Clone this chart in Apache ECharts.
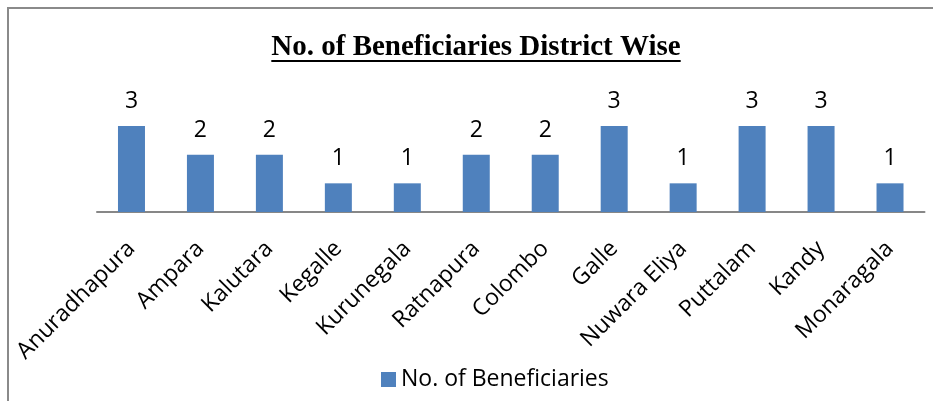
<!DOCTYPE html>
<html>
<head>
<meta charset="utf-8">
<script src="https://cdn.jsdelivr.net/npm/echarts@6/dist/echarts.min.js"></script>
<style>
  html, body { margin: 0; padding: 0; background: #fff; }
  #chart { width: 933px; height: 401px; }
</style>
</head>
<body>
<div id="chart"></div>
<script>
// District-wise beneficiary counts
const districts = ['Anuradhapura', 'Ampara', 'Kalutara', 'Kegalle', 'Kurunegala', 'Ratnapura',
  'Colombo', 'Galle', 'Nuwara Eliya', 'Puttalam', 'Kandy', 'Monaragala'];
const beneficiaries = [3, 2, 2, 1, 1, 2, 2, 3, 1, 3, 3, 1];
const seriesName = 'No. of Beneficiaries';
const chartTitle = 'No. of Beneficiaries District Wise';

const labelFont = '"Open Sans"';
const titleFont = 'bold 29px "Liberation Serif"';

// width of the title, used for its underline
const ctx = document.createElement('canvas').getContext('2d');
ctx.font = titleFont;
const titleWidth = ctx.measureText(chartTitle).width;
const titleCx = 476;

const chart = echarts.init(document.getElementById('chart'), null, { renderer: 'canvas' });
chart.setOption({
  animation: false,
  backgroundColor: '#fff',
  grid: { left: 97, right: 8.5, top: 126, bottom: 189, containLabel: false },
  xAxis: {
    type: 'category',
    data: districts,
    axisLine: { lineStyle: { color: '#878787', width: 2 } },
    axisTick: { show: false },
    axisLabel: {
      interval: 0,
      rotate: 45,
      margin: 33,
      color: '#000',
      fontFamily: labelFont,
      fontSize: 23
    }
  },
  yAxis: {
    type: 'value',
    min: 0,
    max: 3,
    show: false,
    splitLine: { show: false }
  },
  legend: {
    data: [seriesName],
    left: 376,
    top: 363,
    icon: 'rect',
    itemWidth: 15,
    itemHeight: 15,
    itemGap: 8,
    textStyle: { color: '#000', fontFamily: labelFont, fontSize: 23 }
  },
  graphic: [
    {
      type: 'rect',
      shape: { x: 8, y: 8, width: 1000, height: 600 },
      style: { fill: null, stroke: '#8a8a8a', lineWidth: 2 },
      silent: true
    },
    {
      type: 'text',
      x: titleCx,
      y: 48,
      style: {
        text: chartTitle,
        font: titleFont,
        fill: '#000',
        align: 'center',
        verticalAlign: 'middle'
      }
    },
    {
      type: 'rect',
      shape: { x: titleCx - titleWidth / 2, y: 60, width: titleWidth, height: 2 },
      style: { fill: '#000' }
    }
  ],
  series: [{
    name: seriesName,
    type: 'bar',
    data: beneficiaries,
    barWidth: 27,
    itemStyle: { color: '#4F81BD' },
    label: {
      show: true,
      position: 'top',
      distance: 13,
      color: '#000',
      fontFamily: labelFont,
      fontSize: 23
    }
  }]
});
</script>
</body>
</html>
